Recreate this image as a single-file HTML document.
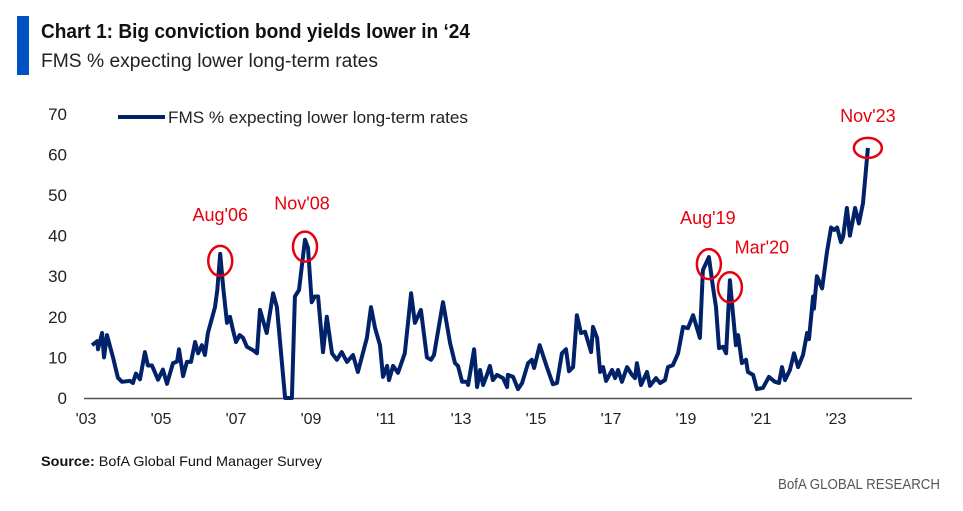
<!DOCTYPE html>
<html><head><meta charset="utf-8"><style>
html,body{margin:0;padding:0;background:#fff;}
svg{display:block;font-family:"Liberation Sans",sans-serif;}
</style></head><body>
<svg id="chart" width="963" height="511" viewBox="0 0 963 511">
<rect x="17" y="16" width="12" height="59" fill="#0052c2"/>
<text x="41" y="38" font-size="20" font-weight="bold" fill="#111" textLength="429" lengthAdjust="spacingAndGlyphs">Chart 1: Big conviction bond yields lower in ‘24</text>
<text x="41" y="67" font-size="19" fill="#222" textLength="337" lengthAdjust="spacingAndGlyphs">FMS % expecting lower long-term rates</text>
<line x1="118" y1="117" x2="165" y2="117" stroke="#012169" stroke-width="4"/>
<text x="168" y="123" font-size="17" fill="#222" textLength="300" lengthAdjust="spacingAndGlyphs">FMS % expecting lower long-term rates</text>
<g id="yaxis"></g>
<g id="xaxis"></g>
<line x1="84" y1="398.5" x2="912" y2="398.5" stroke="#555" stroke-width="1.5"/>
<path id="series" fill="none" stroke="#012169" stroke-width="4" stroke-linejoin="round"/>
<g id="annots"></g>
<text x="41" y="466" font-size="14" fill="#111" textLength="281" lengthAdjust="spacingAndGlyphs"><tspan font-weight="bold">Source:</tspan> BofA Global Fund Manager Survey</text>
<text x="940" y="489" font-size="15" fill="#555" text-anchor="end" textLength="162" lengthAdjust="spacingAndGlyphs">BofA GLOBAL RESEARCH</text>
</svg>
<script>
const yTicks=[0,10,20,30,40,50,60,70];
const xTickYears=[2003,2005,2007,2009,2011,2013,2015,2017,2019,2021,2023];
const xTickLabels=["'03","'05","'07","'09","'11","'13","'15","'17","'19","'21","'23"];
const dates=[2003.16,2003.3,2003.32,2003.43,2003.48,2003.56,2003.72,2003.85,2003.96,2004.17,2004.25,2004.33,2004.44,2004.57,2004.65,2004.76,2004.92,2005.05,2005.16,2005.32,2005.43,2005.48,2005.59,2005.69,2005.8,2005.91,2005.99,2006.09,2006.17,2006.25,2006.44,2006.5,2006.58,2006.66,2006.76,2006.84,2006.92,2007.0,2007.1,2007.19,2007.29,2007.45,2007.56,2007.64,2007.82,2007.99,2008.09,2008.31,2008.49,2008.57,2008.68,2008.84,2008.92,2009.02,2009.1,2009.19,2009.32,2009.42,2009.56,2009.69,2009.82,2009.96,2010.12,2010.25,2010.49,2010.6,2010.71,2010.84,2010.92,2011.03,2011.08,2011.19,2011.32,2011.5,2011.67,2011.77,2011.93,2012.09,2012.2,2012.28,2012.52,2012.71,2012.84,2012.92,2013.03,2013.16,2013.19,2013.35,2013.43,2013.51,2013.59,2013.69,2013.77,2013.85,2013.96,2014.12,2014.23,2014.25,2014.39,2014.52,2014.63,2014.79,2014.89,2014.95,2015.1,2015.29,2015.45,2015.56,2015.69,2015.8,2015.88,2015.99,2016.09,2016.2,2016.31,2016.47,2016.52,2016.63,2016.71,2016.79,2016.87,2017.03,2017.11,2017.19,2017.29,2017.43,2017.56,2017.64,2017.69,2017.8,2017.96,2018.04,2018.2,2018.31,2018.44,2018.52,2018.65,2018.79,2018.92,2019.05,2019.19,2019.37,2019.45,2019.61,2019.72,2019.8,2019.88,2019.99,2020.07,2020.17,2020.25,2020.33,2020.39,2020.49,2020.6,2020.65,2020.79,2020.89,2021.05,2021.21,2021.37,2021.48,2021.56,2021.64,2021.77,2021.88,2021.99,2022.12,2022.23,2022.28,2022.39,2022.41,2022.49,2022.63,2022.76,2022.87,2022.95,2023.03,2023.13,2023.19,2023.29,2023.37,2023.51,2023.61,2023.72,2023.85];
const values=[13,14,12,16,10,15.5,10,5,4,4.2,3.7,6,4.6,11.3,8,8,4.5,7,3.5,8.6,9,12,5.4,8.9,8.9,13.8,11,13,10.6,16,22.4,26.6,35.5,27,18.5,20,16.7,13.8,15.5,14.8,12.6,11.8,11,21.7,16,25.8,22.4,0,0,25,26.6,39,37,23.6,25,25,11.3,20,11,9.4,11.3,8.9,10.6,6.4,14.8,22.4,17.2,13,5.2,7.9,4.4,7.9,6.2,11,25.8,18.5,21.7,10,9.4,10.6,23.6,13.5,8.6,7.9,4,4,3.2,12,2.7,6.9,3.2,5.7,7.9,4.4,5.7,4.9,2.7,5.7,5.2,2.2,3.7,8.6,9.4,7.4,13,7.6,3.4,3.7,11,12,6.6,7.6,20.4,16,16.3,11.3,17.5,14.8,6.4,7.6,4.2,6.9,4.9,6.9,4,7.6,5.7,4.9,8.6,3.2,6.4,3,4.9,3.7,4.4,7.6,8.1,11,17.5,17.2,20.4,14.8,31.5,34.7,27.3,22.4,12.3,12.6,11,29,20.9,13,15.5,8.6,9.4,6.4,5.7,2.2,2.5,5.2,4,3.7,7.6,4.4,6.9,11,7.6,10.6,16,14.5,25,22,30,27,36,42,41.4,42,38.4,39.7,46.8,40,46.8,43,48,61.6];
const annLabels=["Aug'06","Nov'08","Aug'19","Mar'20","Nov'23"];
const annDates=[2006.58,2008.84,2019.61,2020.17,2023.85];
const annValues=[35.5,39,34.7,29,61.6];
const X=d=>86+(d-2003)*37.5;
const Y=v=>398-v*4.06;
const NS="http://www.w3.org/2000/svg";
function mk(tag,attrs,parent){const e=document.createElementNS(NS,tag);for(const k in attrs)e.setAttribute(k,attrs[k]);parent.appendChild(e);return e;}
const ya=document.getElementById('yaxis');
yTicks.forEach(t=>{const e=mk('text',{x:67,y:Y(t)+6,'font-size':17,fill:'#222','text-anchor':'end'},ya);


e.textContent=t;});
const xa=document.getElementById('xaxis');
xTickYears.forEach((y,i)=>{const e=mk('text',{x:X(y),y:424,'font-size':16,fill:'#222','text-anchor':'middle'},xa);


e.textContent=xTickLabels[i];});
document.getElementById('series').setAttribute('d',dates.map((d,i)=>(i?'L':'M')+X(d).toFixed(1)+' '+Y(values[i]).toFixed(1)).join(' '));
const an=document.getElementById('annots');
const offs=[[0,-33],[-3,-30],[-1,-33],[32,-27],[0,-26]];
annLabels.forEach((l,i)=>{const cx=X(annDates[i]),cy=Y(annValues[i]);
const big=i===4;
const c=mk('ellipse',{cx:cx,cy:big?cy:cy+7,rx:big?14:12,ry:big?10:15,fill:'none',stroke:'#e8000d','stroke-width':2.5},an);


const t=mk('text',{x:cx+offs[i][0],y:cy+offs[i][1],'font-size':18,fill:'#e8000d','text-anchor':'middle'},an);


t.textContent=l;});
</script>
</body></html>
